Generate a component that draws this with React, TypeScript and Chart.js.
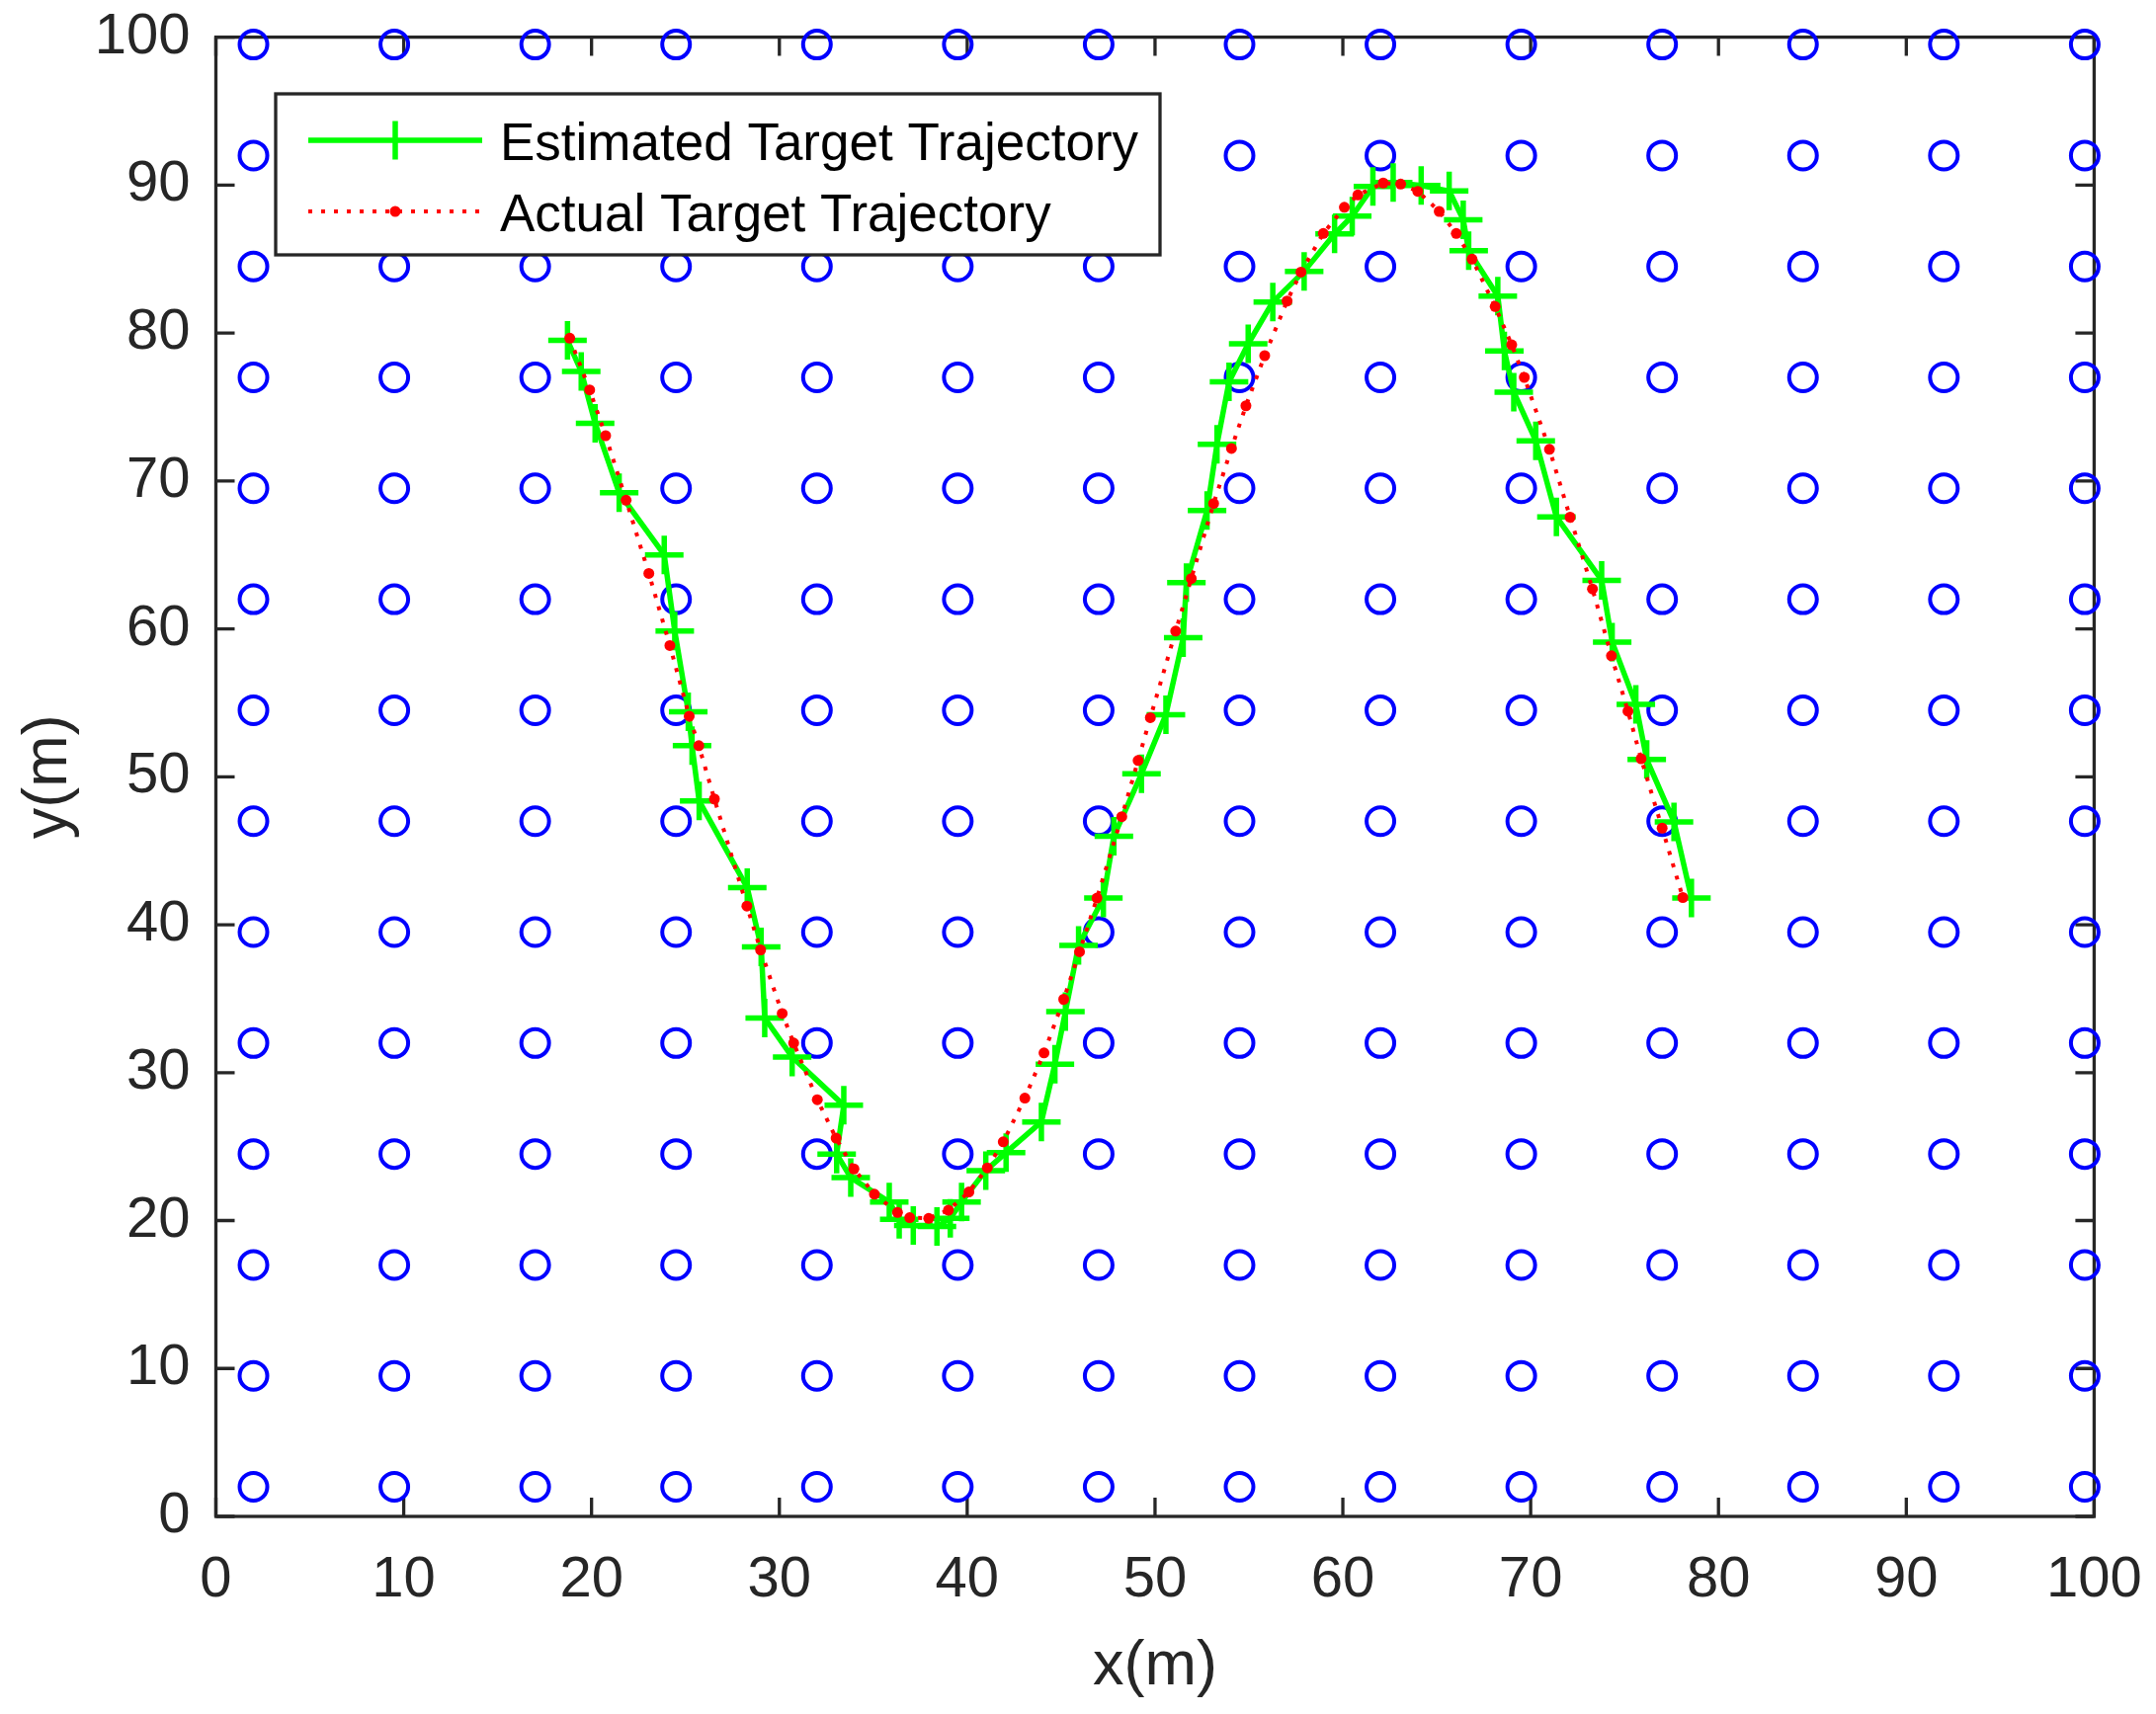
import React, { useEffect, useRef } from "react";
import { Chart, registerables } from "chart.js";

Chart.register(...registerables);

// Sensor node grid (blue circles)
const nodeCols = [2, 9.5, 17, 24.5, 32, 39.5, 47, 54.5, 62, 69.5, 77, 84.5, 92, 99.5];
const nodeRows = [2, 9.5, 17, 24.5, 32, 39.5, 47, 54.5, 62, 69.5, 77, 84.5, 92, 99.5];

// Estimated target trajectory (green +)
const estX = [18.72, 19.45, 20.19, 21.47, 23.87, 24.43, 25.15, 25.35, 25.73, 28.29, 29.03, 29.22, 30.68, 33.43, 33.05, 33.8, 35.85, 36.38, 37.13, 38.39, 39.1, 39.7, 40.99, 42.07, 43.95, 44.67, 45.23, 45.93, 47.25, 47.81, 49.28, 50.58, 51.5, 51.67, 52.77, 53.3, 53.94, 54.96, 56.27, 57.94, 59.56, 60.5, 61.6, 62.68, 64.17, 65.66, 66.41, 66.7, 68.25, 68.6, 69.1, 70.27, 71.37, 73.78, 74.34, 75.6, 76.18, 77.63, 78.56];
const estY = [79.5, 77.4, 73.9, 69.2, 65.0, 59.85, 54.4, 52.1, 48.36, 42.5, 38.5, 33.69, 31.06, 27.79, 24.5, 22.9, 21.26, 20.09, 19.66, 19.6, 20.15, 21.26, 23.38, 24.6, 26.67, 30.57, 34.13, 38.6, 41.8, 45.98, 50.2, 54.2, 59.4, 63.13, 68.0, 72.48, 76.7, 79.27, 82.1, 84.17, 86.7, 87.9, 89.9, 90.18, 89.97, 89.6, 87.66, 85.57, 82.5, 78.78, 76.0, 72.71, 67.57, 63.28, 59.11, 54.9, 51.17, 46.95, 41.8];

// Actual target trajectory (red dotted with dots)
const actX = [18.84, 19.9, 20.75, 21.84, 23.05, 24.17, 25.2, 25.71, 26.54, 28.27, 29.0, 30.15, 30.76, 32.02, 33.02, 33.97, 35.06, 36.29, 36.94, 37.95, 39.0, 40.09, 41.07, 41.92, 43.07, 44.09, 45.14, 45.98, 46.91, 48.23, 49.1, 49.75, 51.1, 51.93, 53.12, 54.07, 54.84, 55.84, 57.03, 57.77, 58.96, 60.08, 60.8, 62.15, 63.08, 63.99, 65.13, 66.04, 66.88, 68.11, 68.99, 69.66, 71.0, 72.1, 73.29, 74.3, 75.18, 75.88, 77.0, 78.1];
const actY = [79.65, 76.15, 73.06, 68.7, 63.75, 58.87, 54.1, 52.1, 48.5, 41.26, 38.3, 34.0, 32.0, 28.17, 25.57, 23.49, 21.78, 20.55, 20.2, 20.15, 20.7, 21.93, 23.56, 25.32, 28.28, 31.33, 34.96, 38.17, 41.8, 47.3, 51.1, 54.0, 59.85, 63.4, 68.47, 72.2, 75.08, 78.47, 82.16, 84.12, 86.73, 88.5, 89.33, 90.14, 90.07, 89.58, 88.22, 86.73, 84.99, 81.79, 79.2, 77.0, 72.14, 67.55, 62.7, 58.18, 54.43, 51.22, 46.53, 41.84];

const xTicks = [0, 10, 20, 30, 40, 50, 60, 70, 80, 90, 100];
const yTicks = [0, 10, 20, 30, 40, 50, 60, 70, 80, 90, 100];
const seriesLabels = ["Estimated Target Trajectory", "Actual Target Trajectory"];
const xTitle = "x(m)";
const yTitle = "y(m)";

const FONT = "'Liberation Sans', Arial, Helvetica, sans-serif";
const AXIS = "#262626";
const W = 2182;
const H = 1735;

const framePlugin = {
  id: "matlabFrame",
  beforeDatasetsDraw(chart: any) {
    const { ctx, chartArea: a, scales } = chart;
    ctx.save();
    ctx.strokeStyle = AXIS;
    ctx.lineWidth = 3.3;
    ctx.lineCap = "butt";
    ctx.strokeRect(a.left, a.top, a.right - a.left, a.bottom - a.top);
    const tl = 19;
    ctx.beginPath();
    xTicks.forEach((v) => {
      const px = scales.x.getPixelForValue(v);
      ctx.moveTo(px, a.bottom);
      ctx.lineTo(px, a.bottom - tl);
      ctx.moveTo(px, a.top);
      ctx.lineTo(px, a.top + tl);
    });
    yTicks.forEach((v) => {
      const py = scales.y.getPixelForValue(v);
      ctx.moveTo(a.left, py);
      ctx.lineTo(a.left + tl, py);
      ctx.moveTo(a.right, py);
      ctx.lineTo(a.right - tl, py);
    });
    ctx.stroke();
    ctx.restore();
  },
  afterDatasetsDraw(chart: any) {
    const { ctx } = chart;
    ctx.save();
    const bx = 279, by = 95, bw = 895, bh = 163;
    ctx.fillStyle = "#ffffff";
    ctx.fillRect(bx, by, bw, bh);
    ctx.strokeStyle = AXIS;
    ctx.lineWidth = 3.3;
    ctx.strokeRect(bx, by, bw, bh);

    // Row 1: estimated
    const r1 = 142;
    ctx.strokeStyle = "#00FF00";
    ctx.lineWidth = 5.5;
    ctx.beginPath();
    ctx.moveTo(312, r1);
    ctx.lineTo(488, r1);
    ctx.moveTo(400, r1 - 19.5);
    ctx.lineTo(400, r1 + 19.5);
    ctx.stroke();

    // Row 2: actual
    const r2 = 214;
    ctx.strokeStyle = "#FF0000";
    ctx.lineWidth = 4;
    ctx.setLineDash([4, 9]);
    ctx.beginPath();
    ctx.moveTo(312, r2);
    ctx.lineTo(488, r2);
    ctx.stroke();
    ctx.setLineDash([]);
    ctx.fillStyle = "#FF0000";
    ctx.beginPath();
    ctx.arc(400, r2, 5.5, 0, Math.PI * 2);
    ctx.fill();

    ctx.fillStyle = "#000000";
    ctx.font = `53px ${FONT}`;
    ctx.textAlign = "left";
    ctx.textBaseline = "alphabetic";
    ctx.fillText(seriesLabels[0], 506, 161.5);
    ctx.fillText(seriesLabels[1], 506, 234);
    ctx.restore();
  },
};

export default function App() {
  const canvasRef = useRef<HTMLCanvasElement | null>(null);

  useEffect(() => {
    const canvas = canvasRef.current;
    if (!canvas) return;
    const nodes: { x: number; y: number }[] = [];
    nodeCols.forEach((cx) => nodeRows.forEach((cy) => nodes.push({ x: cx, y: cy })));

    const zeroPad = (s: any) => {
      s.paddingTop = 0;
      s.paddingBottom = 0;
      s.paddingLeft = 0;
      s.paddingRight = 0;
    };

    const chart = new Chart(canvas, {
      type: "scatter",
      data: {
        datasets: [
          {
            label: seriesLabels[1],
            data: actX.map((x, i) => ({ x, y: actY[i] })),
            showLine: true,
            borderColor: "#FF0000",
            borderWidth: 4,
            borderDash: [4, 9],
            borderCapStyle: "butt",
            pointStyle: "circle",
            pointRadius: 5.5,
            pointBackgroundColor: "#FF0000",
            pointBorderColor: "#FF0000",
            pointBorderWidth: 0,
            tension: 0,
            order: 1,
          },
          {
            label: seriesLabels[0],
            data: estX.map((x, i) => ({ x, y: estY[i] })),
            showLine: true,
            borderColor: "#00FF00",
            borderWidth: 5.5,
            borderJoinStyle: "round",
            pointStyle: "cross",
            pointRadius: 19.5,
            pointBorderColor: "#00FF00",
            pointBackgroundColor: "#00FF00",
            pointBorderWidth: 5.5,
            tension: 0,
            order: 2,
          },
          {
            label: "Sensor nodes",
            data: nodes,
            showLine: false,
            pointStyle: "circle",
            pointRadius: 14,
            pointBorderColor: "#0000FF",
            pointBackgroundColor: "rgba(0,0,0,0)",
            pointBorderWidth: 4,
            clip: false as any,
            order: 3,
          },
        ] as any,
      },
      options: {
        responsive: false,
        maintainAspectRatio: false,
        animation: false,
        devicePixelRatio: 1,
        events: [],
        layout: { autoPadding: false, padding: { left: 0, top: 37.6, right: 62.6, bottom: 0 } },
        plugins: {
          legend: { display: false },
          tooltip: { enabled: false },
        },
        scales: {
          x: {
            type: "linear",
            position: "bottom",
            min: 0,
            max: 100,
            grid: { display: false, drawTicks: false, tickLength: 0 },
            border: { display: false },
            afterBuildTicks: (s: any) => {
              s.ticks = xTicks.map((v) => ({ value: v }));
            },
            afterFit: (s: any) => {
              s.height = 200;
              zeroPad(s);
            },
            ticks: {
              color: AXIS,
              font: { family: FONT, size: 58 },
              padding: 30,
              maxRotation: 0,
              autoSkip: false,
            },
            title: {
              display: true,
              text: xTitle,
              color: AXIS,
              font: { family: FONT, size: 63 },
              padding: { top: 0, bottom: 10 },
            },
          },
          y: {
            type: "linear",
            position: "left",
            min: 0,
            max: 100,
            grid: { display: false, drawTicks: false, tickLength: 0 },
            border: { display: false },
            afterBuildTicks: (s: any) => {
              s.ticks = yTicks.map((v) => ({ value: v }));
            },
            afterFit: (s: any) => {
              s.width = 218.5;
              zeroPad(s);
            },
            ticks: {
              color: AXIS,
              font: { family: FONT, size: 58 },
              padding: 26,
              autoSkip: false,
            },
            title: {
              display: true,
              text: yTitle,
              color: AXIS,
              font: { family: FONT, size: 63 },
              padding: { top: 12, bottom: 0 },
            },
          },
        },
      } as any,
      plugins: [framePlugin],
    });
    return () => chart.destroy();
  }, []);

  return (
    <div style={{ position: "absolute", left: 0, top: 0, width: W, height: H, background: "#ffffff" }}>
      <canvas ref={canvasRef} width={W} height={H} style={{ width: W, height: H, display: "block" }} />
    </div>
  );
}
